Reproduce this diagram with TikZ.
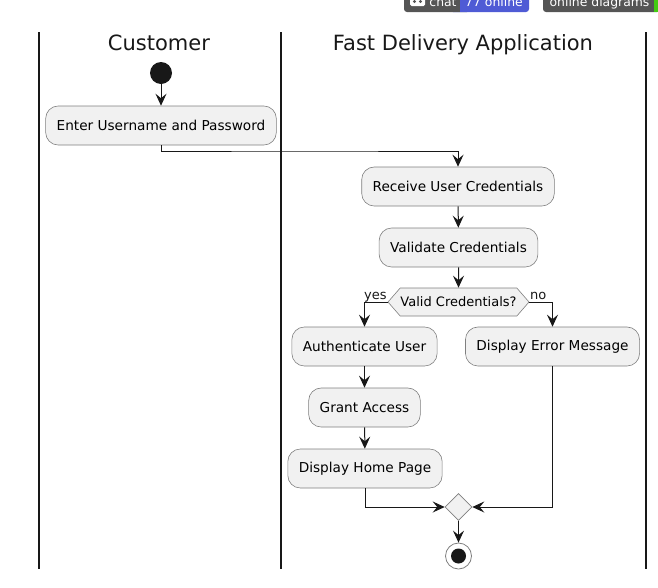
\documentclass[tikz,border=0pt]{standalone}
\usepackage{fontspec}
\setmainfont{DejaVu Sans}
\usetikzlibrary{arrows.meta, shapes.geometric, shapes.symbols, positioning}

\definecolor{boxfill}{HTML}{F1F1F1}
\definecolor{boxline}{HTML}{7F7F7F}
\definecolor{inkline}{HTML}{181818}
\definecolor{badgegray}{HTML}{555555}
\definecolor{badgeblue}{HTML}{4F5BD5}
\definecolor{badgegreen}{HTML}{44CC11}

\tikzset{
	activity/.style={draw=boxline, fill=boxfill, rounded corners=12.5pt, line width=0.6pt,
		minimum height=39pt, inner xsep=11pt, inner ysep=0pt, text=black, font=\fontsize{13.65}{15}\selectfont},
	choice/.style={draw=boxline, fill=boxfill, signal, signal from=nowhere, signal to=east and west,
		signal pointer angle=98, line width=0.6pt, minimum height=28pt, minimum width=141pt,
		inner sep=0pt, font=\fontsize{13}{15}\selectfont},
	merge/.style={draw=boxline, fill=boxfill, diamond, minimum size=27pt, inner sep=0pt, line width=0.6pt},
	lanetitle/.style={text=inkline, anchor=base, font=\fontsize{21}{24}\selectfont},
	branchlabel/.style={text=inkline, inner sep=0pt, anchor=base west, font=\fontsize{13}{15}\selectfont},
	badgetext/.style={text=white, inner sep=0pt, anchor=base, font=\fontsize{12.4}{14}\selectfont},
	flow/.style={draw=inkline, line width=1pt, -{Stealth[length=12pt, width=11pt, inset=4.5pt]}},
	lane/.style={draw=inkline, line width=1.5pt}
}

\begin{document}
\begin{tikzpicture}[x=1pt, y=1pt]
\useasboundingbox (0,0) rectangle (658,-587);

% badges
\fill[badgegray, rounded corners=3pt] (404,6) rectangle (470,-12);
\fill[badgeblue, rounded corners=3pt] (450,6) rectangle (529,-12);
\fill[badgegray] (450,6) rectangle (460,-12);
\fill[badgegray, rounded corners=3pt] (543,6) rectangle (660,-12);
\fill[badgegreen] (653.5,6) rectangle (660,-12);
\fill[white, rounded corners=1.5pt] (410,3) rectangle (425,-6);
\fill[badgegray] (414.5,-1.5) circle (1.6pt) (420.5,-1.5) circle (1.6pt);
\path (443,-6) node[badgetext] (badge-chat) {chat};
\path (494,-6) node[badgetext] (badge-count) {77 online};
\path (599.5,-6) node[badgetext] (badge-online) {online diagrams};

% swimlanes
\coordinate (lane-a-top) at (39,-32);
\coordinate (lane-a-bot) at (39,-569);
\coordinate (lane-b-top) at (281,-32);
\coordinate (lane-b-bot) at (281,-569);
\coordinate (lane-c-top) at (646,-32);
\coordinate (lane-c-bot) at (646,-569);
\draw[lane] (lane-a-top) -- (lane-a-bot);
\draw[lane] (lane-b-top) -- (lane-b-bot);
\draw[lane] (lane-c-top) -- (lane-c-bot);

\path (159,-50) node[lanetitle] (customer) {Customer};
\path (463,-50) node[lanetitle] (delivery) {Fast Delivery Application};

% activities
\path (161,-73) node[circle, fill=inkline, minimum size=22pt, inner sep=0pt] (start) {};
\path (161,-125.5) node[activity] (enter) {Enter Username and Password};
\path (458,-186.5) node[activity] (receive) {Receive User Credentials};
\path (458.5,-247.5) node[activity] (validate) {Validate Credentials};
\path (458.5,-302) node[choice] (valid) {Valid Credentials?};
\path (364.5,-346.5) node[activity] (auth) {Authenticate User};
\path (364.5,-407.5) node[activity] (grant) {Grant Access};
\path (365,-468.5) node[activity] (home) {Display Home Page};
\path (552.5,-346.5) node[activity] (error) {Display Error Message};
\path (458.5,-507) node[merge] (join) {};
\path (458.5,-556) node[circle, draw=boxline, fill=white, line width=0.8pt, minimum size=26pt, inner sep=0pt] (stop) {};
\path (458.5,-556) node[circle, fill=inkline, minimum size=15pt, inner sep=0pt] (stop-dot) {};

\path (364,-299.5) node[branchlabel] (yes) {yes};
\path (530,-299.5) node[branchlabel] (no) {no};

% connectors
\coordinate (bend) at (300,-151);
\draw[flow] (start) -- (enter);
\draw[flow] (enter.south) |- (bend) -| (receive.north);
\draw[flow] (receive) -- (validate);
\draw[flow] (validate) -- (valid);
\draw[flow] (valid.west) -| (auth.north);
\draw[flow] (valid.east) -| (error.north);
\draw[flow] (auth) -- (grant);
\draw[flow] (grant) -- (home);
\draw[flow] (home.south) |- (join.west);
\draw[flow] (error.south) |- (join.east);
\draw[flow] (join) -- (stop);
\end{tikzpicture}
\end{document}
